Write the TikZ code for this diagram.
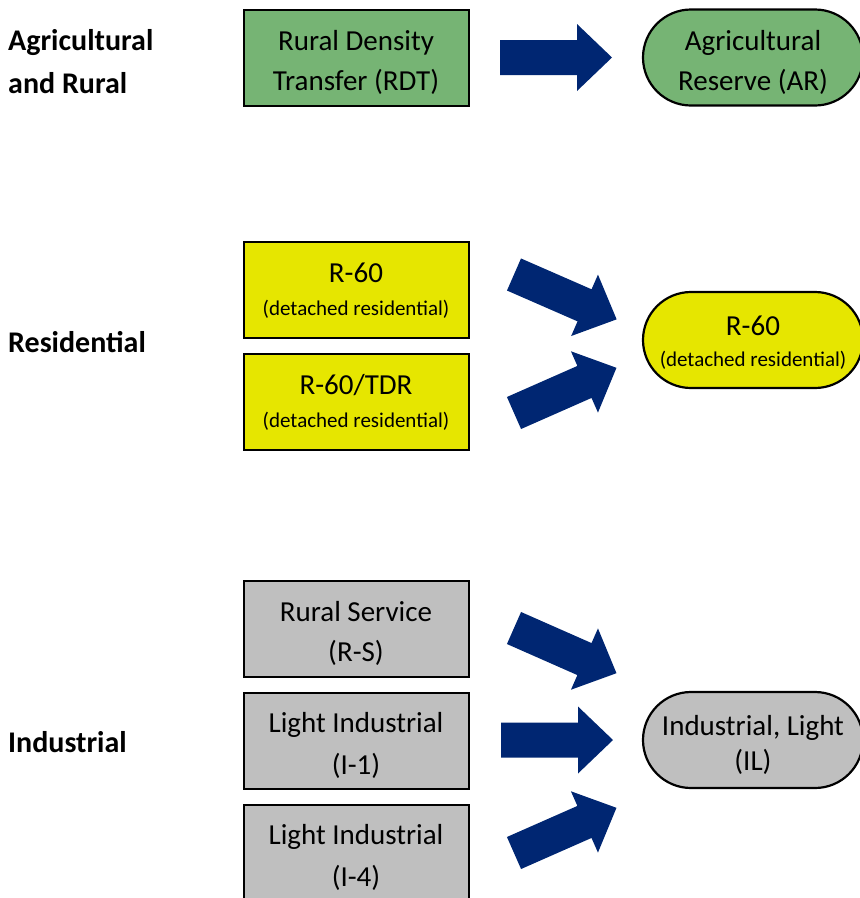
\documentclass[tikz,border=0pt]{standalone}
\usepackage{fontspec}
\setmainfont{Carlito}
\definecolor{agrigreen}{RGB}{118,180,116}
\definecolor{resyellow}{RGB}{230,230,0}
\definecolor{indgray}{RGB}{191,191,191}
\definecolor{arrownavy}{RGB}{0,38,114}
\newcommand{\bigtxt}{\fontsize{29}{40}\selectfont}
\newcommand{\labeltxt}{\fontsize{30}{43}\selectfont\bfseries}
\newcommand{\smalltxt}{\fontsize{21}{24}\selectfont}
\tikzset{
  zonebox/.style={draw=black, line width=2pt, minimum width=225pt, minimum height=96pt,
    inner sep=0pt},
  zonepill/.style={draw=black, line width=2.2pt, minimum width=220pt, minimum height=96pt,
    rounded corners=48pt, inner sep=0pt},
  zonetext/.style={inner sep=0pt, align=center, font=\bigtxt},
  grouplabel/.style={anchor=west, align=left, inner sep=0pt, font=\labeltxt},
  blockarrow/.pic={
    \fill[arrownavy] (0,-17.5) -- (77,-17.5) -- (77,-33.5) -- (112,0)
      -- (77,33.5) -- (77,17.5) -- (0,17.5) -- cycle;
  }
}
\begin{document}
\begin{tikzpicture}[x=1pt, y=1pt]
\useasboundingbox (0,0) rectangle (860,-898);
\clip (0,0) rectangle (860,-898);

% group labels
\node[grouplabel] (lagr) at (8,-62) {Agricultural\\and Rural};
\node[grouplabel] (lres) at (8,-342) {Residential};
\node[grouplabel] (lind) at (8,-742) {Industrial};

% agricultural and rural
\node[zonebox, fill=agrigreen] (rdt) at (356,-57.5) {};
\node[zonetext] (rdt-t) at ([yshift=-4.5pt]rdt.center) {Rural Density\\Transfer (RDT)};
\node[zonepill, fill=agrigreen] (ar) at (753,-57.5) {};
\node[zonetext] (ar-t) at ([yshift=-4.5pt]ar.center) {Agricultural\\Reserve (AR)};

% residential
\node[zonebox, fill=resyellow] (r60a) at (356,-289.5) {};
\node[zonetext] (r60a-t) at ([yshift=-1pt]r60a.center)
  {R-60\\[-7pt]{\smalltxt (detached residential)}};
\node[zonebox, fill=resyellow] (r60tdr) at (356,-401.5) {};
\node[zonetext] (r60tdr-t) at ([yshift=-1pt]r60tdr.center)
  {R-60/TDR\\[-7pt]{\smalltxt (detached residential)}};
\node[zonepill, fill=resyellow] (r60b) at (753,-340) {};
\node[zonetext] (r60b-t) at ([yshift=-3pt]r60b.center)
  {R-60\\[-9pt]{\smalltxt (detached residential)}};

% industrial
\node[zonebox, fill=indgray] (rs) at (356,-629) {};
\node[zonetext] (rs-t) at ([yshift=-4pt]rs.center) {Rural Service\\(R-S)};
\node[zonebox, fill=indgray] (i1) at (356,-741) {};
\node[zonetext] (i1-t) at ([yshift=-4pt]i1.center) {Light Industrial\\[2pt](I-1)};
\node[zonebox, fill=indgray] (i4) at (356,-853) {};
\node[zonetext] (i4-t) at ([yshift=-4pt]i4.center) {Light Industrial\\[2pt](I-4)};
\node[zonepill, fill=indgray] (il) at (753,-740) {};
\node[zonetext] (il-t) at ([yshift=-5pt]il.center) {Industrial, Light\\[-5pt](IL)};

% block arrows
\pic at (500,-57.5) {blockarrow};
\pic[rotate=-23.6] at (514,-274.5) {blockarrow};
\pic[rotate=23.8] at (514,-413) {blockarrow};
\pic[rotate=-23.8] at (514,-628) {blockarrow};
\pic at (501,-740) {blockarrow};
\pic[rotate=23.8] at (514,-853) {blockarrow};
\end{tikzpicture}
\end{document}
